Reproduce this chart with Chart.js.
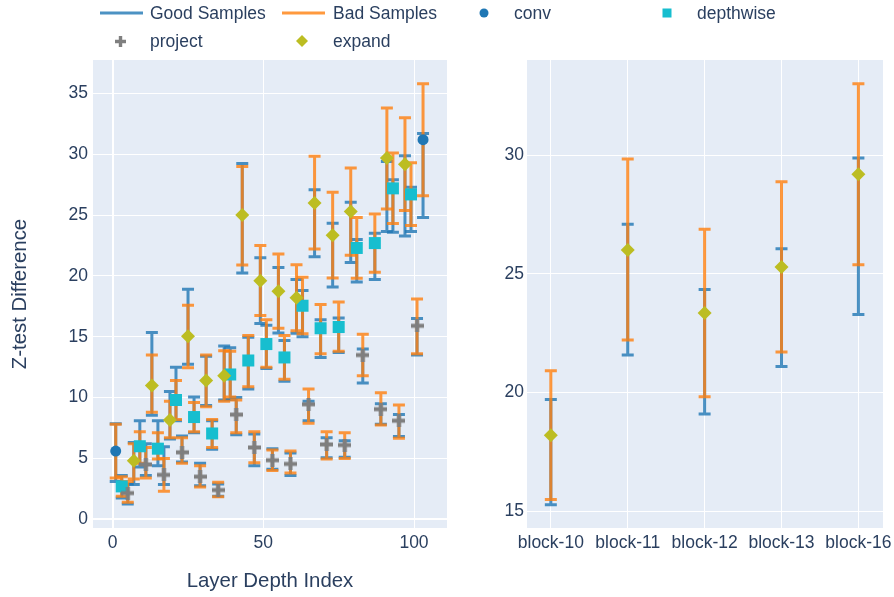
<!DOCTYPE html>
<html>
<head>
<meta charset="utf-8">
<script src="https://cdn.jsdelivr.net/npm/chart.js@4.4.1/dist/chart.umd.min.js"></script>
<style>
  html, body { margin: 0; padding: 0; background: #fff; }
  body { width: 894px; height: 597px; position: relative; overflow: hidden; font-family: "Liberation Sans", Arial, sans-serif; }
  canvas { position: absolute; top: 0; }
  #leftChart { left: 0; }
  #rightChart { left: 460px; }
  .sym { position: absolute; }
  .lab { position: absolute; font-size: 17.5px; line-height: 20px; color: #2a3f5f; white-space: nowrap; }
</style>
</head>
<body>
<canvas id="leftChart" width="460" height="597"></canvas>
<canvas id="rightChart" width="444" height="597"></canvas>

<!-- legend -->
<svg class="sym" style="left:100px;top:11px" width="43" height="4"><line x1="0" y1="2" x2="43" y2="2" stroke="#1f77b4" stroke-opacity="0.8" stroke-width="3"/></svg>
<span class="lab" style="left:150px;top:3px">Good Samples</span>
<svg class="sym" style="left:282px;top:11px" width="43" height="4"><line x1="0" y1="2" x2="43" y2="2" stroke="#ff7f0e" stroke-opacity="0.8" stroke-width="3"/></svg>
<span class="lab" style="left:333px;top:3px">Bad Samples</span>
<svg class="sym" style="left:479px;top:8px" width="10" height="10"><circle cx="5" cy="5" r="4.5" fill="#1f77b4"/></svg>
<span class="lab" style="left:514px;top:3px">conv</span>
<svg class="sym" style="left:662px;top:8px" width="10" height="10"><rect x="0.5" y="0.5" width="9" height="9" fill="#17becf"/></svg>
<span class="lab" style="left:697px;top:3px">depthwise</span>
<svg class="sym" style="left:115px;top:36px" width="11" height="11"><path d="M3.8 0H7.2V3.8H11V7.2H7.2V11H3.8V7.2H0V3.8H3.8Z" fill="#7f7f7f"/></svg>
<span class="lab" style="left:150px;top:31px">project</span>
<svg class="sym" style="left:296px;top:35px" width="12" height="12"><path d="M6 0L12 6L6 12L0 6Z" fill="#bcbd22"/></svg>
<span class="lab" style="left:333px;top:31px">expand</span>

<script>
// layer position on the x axis and what kind of layer it is
const layerIndex = [1, 3, 5, 7, 9, 11, 13, 15, 17, 19, 21, 23, 25, 27, 29, 31, 33, 35, 37, 39, 41, 43, 45, 47, 49, 51,
    53, 55, 57, 59, 61, 63, 65, 67, 69, 71, 73, 75, 77, 79, 81, 83, 87, 89, 91, 93, 95, 97, 99, 101, 103];
const layerType = ['conv', 'depthwise', 'project',
    'expand', 'depthwise', 'project', 'expand', 'depthwise', 'project', 'expand', 'depthwise', 'project',
    'expand', 'depthwise', 'project', 'expand', 'depthwise', 'project', 'expand', 'depthwise', 'project',
    'expand', 'depthwise', 'project', 'expand', 'depthwise', 'project', 'expand', 'depthwise', 'project',
    'expand', 'depthwise', 'project', 'expand', 'depthwise', 'project', 'expand', 'depthwise', 'project',
    'expand', 'depthwise', 'project', 'depthwise', 'project',
    'expand', 'depthwise', 'project', 'expand', 'depthwise', 'project', 'conv'];

// z-test difference (marker) and the good / bad sample ranges
const zDiff = [5.6, 2.7, 2.15, 4.8, 6.0, 4.5, 11.0, 5.8, 3.65, 8.15, 9.8, 5.5, 15.05, 8.4, 3.5, 11.4, 7.05, 2.4, 11.8, 11.9,
    8.6, 25.0, 13.05, 5.9, 19.6, 14.4, 4.85, 18.75, 13.3, 4.55, 18.2, 17.55, 9.45, 26.0, 15.7, 6.15, 23.35, 15.8, 6.1, 25.29,
    22.3, 13.5, 22.7, 9.05, 29.7, 27.2, 8.1, 29.19, 26.7, 15.9, 31.2];
const goodLow = [3.1, 1.75, 1.25, 2.85, 4.3, 3.6, 8.55, 4.4, 2.85, 6.6, 8.1, 4.7, 12.75, 7.1, 2.75, 9.35, 5.75, 1.9, 9.8, 9.85,
    6.95, 20.25, 10.7, 4.4, 16.1, 12.4, 4.1, 15.3, 11.35, 3.6, 15.28, 15.0, 8.1, 21.58, 13.3, 5.05, 19.1, 13.7, 5.1, 21.1,
    19.5, 11.2, 19.7, 7.8, 23.65, 23.6, 6.8, 23.29, 23.65, 13.5, 24.8];
const goodHigh = [7.85, 3.6, 2.9, 6.3, 8.1, 6.2, 15.35, 8.1, 5.95, 10.5, 12.5, 6.85, 18.9, 10.05, 4.6, 13.4, 8.1, 2.9, 14.25, 14.1,
    10.0, 29.25, 14.95, 7.0, 21.5, 15.95, 5.8, 20.7, 14.7, 5.45, 19.71, 18.8, 9.7, 27.09, 16.4, 6.7, 24.34, 16.55, 6.45, 26.06,
    23.0, 14.0, 23.5, 9.5, 29.4, 27.9, 8.6, 29.87, 27.3, 16.5, 31.7];
const badLow = [3.4, 1.9, 1.4, 3.3, 4.6, 3.4, 8.8, 4.95, 2.3, 6.7, 8.2, 4.6, 12.45, 7.2, 2.65, 9.25, 5.9, 1.85, 9.7, 10.05,
    7.1, 20.9, 10.9, 4.65, 16.75, 12.5, 4.0, 15.7, 11.5, 3.8, 15.5, 15.25, 7.9, 22.21, 13.6, 4.95, 19.82, 13.8, 5.0, 21.71,
    19.8, 11.8, 20.3, 7.75, 25.5, 24.3, 6.65, 25.38, 24.15, 13.6, 26.6];
const badHigh = [7.8, 3.5, 3.1, 6.2, 7.2, 5.9, 13.5, 7.1, 5.0, 9.7, 11.4, 6.7, 17.6, 9.6, 4.4, 13.5, 8.2, 3.05, 13.85, 13.8,
    9.8, 29.0, 15.1, 7.2, 22.5, 16.4, 5.7, 21.8, 15.1, 5.6, 20.92, 19.9, 10.7, 29.83, 17.65, 7.2, 26.88, 17.85, 7.1, 28.88,
    24.8, 15.2, 25.1, 10.4, 33.8, 30.1, 9.4, 33.0, 29.3, 18.1, 35.8];

// right panel: expand layers of a few blocks
const blockLabels = ['block-10', 'block-11', 'block-12', 'block-13', 'block-16'];
const blockZ = [18.2, 26.0, 23.35, 25.29, 29.19];
const blockGoodLow = [15.28, 21.58, 19.1, 21.1, 23.29];
const blockGoodHigh = [19.71, 27.09, 24.34, 26.06, 29.87];
const blockBadLow = [15.5, 22.21, 19.82, 21.71, 25.38];
const blockBadHigh = [20.92, 29.83, 26.88, 28.88, 33.0];

// tick values
const leftXTicks = [0, 50, 100];
const leftYTicks = [0, 5, 10, 15, 20, 25, 30, 35];
const rightYTicks = [15, 20, 25, 30];

const textColor = '#2a3f5f';
const tickFont = { family: 'Liberation Sans', size: 17.5 };
const goodColor = 'rgba(31, 119, 180, 0.8)';
const badColor = 'rgba(255, 127, 14, 0.8)';

// thick plus sign like the plotly cross marker
function makeCross() {
    const c = document.createElement('canvas');
    c.width = 13; c.height = 13;
    const g = c.getContext('2d');
    g.fillStyle = '#7f7f7f';
    g.fillRect(4.5, 0, 4, 13);
    g.fillRect(0, 4.5, 13, 4);
    return c;
}
const crossMarker = makeCross();

// light blue plot area
const plotBackground = {
    id: 'plotBackground',
    beforeDraw(chart) {
        const { ctx, chartArea: a } = chart;
        ctx.save();
        ctx.fillStyle = '#e5ecf6';
        ctx.fillRect(a.left, a.top, a.right - a.left, a.bottom - a.top);
        ctx.restore();
    }
};

// error bars: good first, bad on top
function errorBars(xs, sets) {
    return {
        id: 'errorBars',
        beforeDatasetsDraw(chart) {
            const { ctx, scales: { x, y } } = chart;
            ctx.save();
            ctx.lineWidth = 3;
            sets.forEach(s => {
                ctx.strokeStyle = s.color;
                xs.forEach((xv, i) => {
                    const px = x.getPixelForValue(xv);
                    const top = y.getPixelForValue(s.hi[i]);
                    const bot = y.getPixelForValue(s.lo[i]);
                    ctx.beginPath();
                    ctx.moveTo(px, top); ctx.lineTo(px, bot);
                    ctx.moveTo(px - 6, top); ctx.lineTo(px + 6, top);
                    ctx.moveTo(px - 6, bot); ctx.lineTo(px + 6, bot);
                    ctx.stroke();
                });
            });
            ctx.restore();
        }
    };
}

function pointsOf(kind) {
    const pts = [];
    layerIndex.forEach((x, i) => { if (layerType[i] === kind) pts.push({ x: x, y: zDiff[i] }); });
    return pts;
}

function gridWidth(ctx) {
    return ctx.tick && ctx.tick.value === 0 ? 2 : 1;
}

// left panel
new Chart(document.getElementById('leftChart'), {
    type: 'scatter',
    data: {
        datasets: [
            { label: 'conv', data: pointsOf('conv'), pointStyle: 'circle', radius: 5.5, backgroundColor: '#1f77b4', borderWidth: 0, order: 4 },
            { label: 'depthwise', data: pointsOf('depthwise'), pointStyle: 'rect', radius: 8.5, backgroundColor: '#17becf', borderWidth: 0, order: 3 },
            { label: 'project', data: pointsOf('project'), pointStyle: crossMarker, radius: 6, backgroundColor: '#7f7f7f', borderWidth: 0, order: 2 },
            { label: 'expand', data: pointsOf('expand'), pointStyle: 'rectRot', radius: 7, backgroundColor: '#bcbd22', borderWidth: 0, order: 1 }
        ]
    },
    options: {
        responsive: false,
        animation: false,
        events: [],
        layout: { padding: { top: 60, right: 13, left: 0, bottom: 0 } },
        plugins: { legend: { display: false }, tooltip: { enabled: false } },
        scales: {
            x: {
                type: 'linear', min: -6.54, max: 110.95,
                afterBuildTicks: s => { s.ticks = leftXTicks.map(v => ({ value: v })); },
                afterFit: s => { s.height = 69; },
                grid: { color: '#ffffff', lineWidth: gridWidth, drawTicks: false },
                border: { display: false },
                ticks: { color: textColor, font: tickFont, padding: 5, maxRotation: 0 },
                title: { display: true, text: 'Layer Depth Index', color: textColor, font: { family: 'Liberation Sans', size: 20.4 }, padding: { top: 0, bottom: 3 } }
            },
            y: {
                type: 'linear', min: -0.72, max: 37.75,
                afterBuildTicks: s => { s.ticks = leftYTicks.map(v => ({ value: v })); },
                afterFit: s => { s.width = 93; },
                grid: { color: '#ffffff', lineWidth: gridWidth, drawTicks: false },
                border: { display: false },
                ticks: { color: textColor, font: tickFont, padding: 5 },
                title: { display: true, text: 'Z-test Difference', color: textColor, font: { family: 'Liberation Sans', size: 20.4 }, padding: { top: 8, bottom: 0 } }
            }
        }
    },
    plugins: [plotBackground, errorBars(layerIndex, [
        { lo: goodLow, hi: goodHigh, color: goodColor },
        { lo: badLow, hi: badHigh, color: badColor }
    ])]
});

// right panel
const blockPos = blockLabels.map((b, i) => i);
new Chart(document.getElementById('rightChart'), {
    type: 'scatter',
    data: {
        datasets: [
            { label: 'expand', data: blockPos.map(i => ({ x: i, y: blockZ[i] })), pointStyle: 'rectRot', radius: 7, backgroundColor: '#bcbd22', borderWidth: 0 }
        ]
    },
    options: {
        responsive: false,
        animation: false,
        events: [],
        layout: { padding: { top: 60, right: 21, left: 0, bottom: 0 } },
        plugins: { legend: { display: false }, tooltip: { enabled: false } },
        scales: {
            x: {
                type: 'linear', min: -0.31, max: 4.32,
                afterBuildTicks: s => { s.ticks = blockPos.map(v => ({ value: v })); },
                afterFit: s => { s.height = 69; },
                grid: { color: '#ffffff', lineWidth: 1, drawTicks: false },
                border: { display: false },
                ticks: { color: textColor, font: tickFont, padding: 5, maxRotation: 0, autoSkip: false, callback: v => blockLabels[v] }
            },
            y: {
                type: 'linear', min: 14.3, max: 34.0,
                afterBuildTicks: s => { s.ticks = rightYTicks.map(v => ({ value: v })); },
                afterFit: s => { s.width = 67; },
                grid: { color: '#ffffff', lineWidth: 1, drawTicks: false },
                border: { display: false },
                ticks: { color: textColor, font: tickFont, padding: 3 }
            }
        }
    },
    plugins: [plotBackground, errorBars(blockPos, [
        { lo: blockGoodLow, hi: blockGoodHigh, color: goodColor },
        { lo: blockBadLow, hi: blockBadHigh, color: badColor }
    ])]
});
</script>
</body>
</html>
